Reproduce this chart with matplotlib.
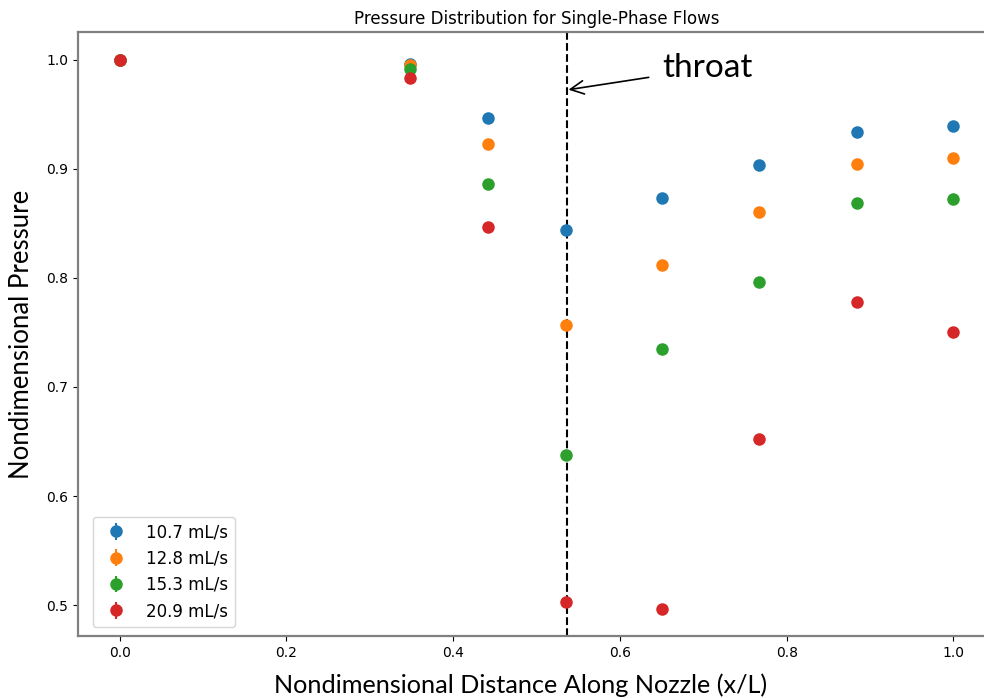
import matplotlib
matplotlib.use("Agg")
import matplotlib.pyplot as plt
import numpy as np

x_pos = [0.0, 0.348, 0.442, 0.535, 0.651, 0.767, 0.884, 1.0]
labels = ["10.7 mL/s", "12.8 mL/s", "15.3 mL/s", "20.9 mL/s"]
p_107 = [1.0, 0.996, 0.946, 0.844, 0.873, 0.903, 0.934, 0.939]
p_128 = [1.0, 0.995, 0.923, 0.757, 0.812, 0.860, 0.904, 0.910]
p_153 = [1.0, 0.991, 0.886, 0.638, 0.735, 0.796, 0.869, 0.872]
p_209 = [1.0, 0.983, 0.847, 0.503, 0.497, 0.652, 0.778, 0.750]
series = [p_107, p_128, p_153, p_209]
colors = ["#1f77b4", "#ff7f0e", "#2ca02c", "#d62728"]
x_throat = 0.537

fig = plt.figure(figsize=(9.84, 6.98), dpi=100)
ax = fig.add_axes([0.0793, 0.0888, 0.932, 0.8652])

for vals, lab, c in zip(series, labels, colors):
    ax.errorbar(x_pos, vals, yerr=np.zeros(len(vals)), fmt='o', color=c,
                markersize=8, label=lab)

ax.axvline(x_throat, color='black', linestyle='--', linewidth=1.5)

ax.annotate("throat", xy=(0.535, 0.972), xytext=(0.651, 0.992),
            fontsize=24, family='Lato', va='center', ha='left',
            arrowprops=dict(arrowstyle='->', color='black', lw=1.2,
                            shrinkA=8))

ax.set_title("Pressure Distribution for Single-Phase Flows", fontsize=12)
ax.set_xlabel("Nondimensional Distance Along Nozzle (x/L)", fontsize=18.2, family='Lato')
ax.set_ylabel("Nondimensional Pressure", fontsize=18.5, family='Lato')
ax.xaxis.set_label_coords(0.483, -0.062)
ax.yaxis.set_label_coords(-0.048, 0.5)
ax.set_yticks([0.5, 0.6, 0.7, 0.8, 0.9, 1.0])
ax.set_xticks([0.0, 0.2, 0.4, 0.6, 0.8, 1.0])

for s in ax.spines.values():
    s.set_color('0.5')
    s.set_linewidth(1.6)

ax.legend(loc='lower left', fontsize=12, borderaxespad=0,
          bbox_to_anchor=(0.0164, 0.015))

fig.savefig("out.png", dpi=100)
